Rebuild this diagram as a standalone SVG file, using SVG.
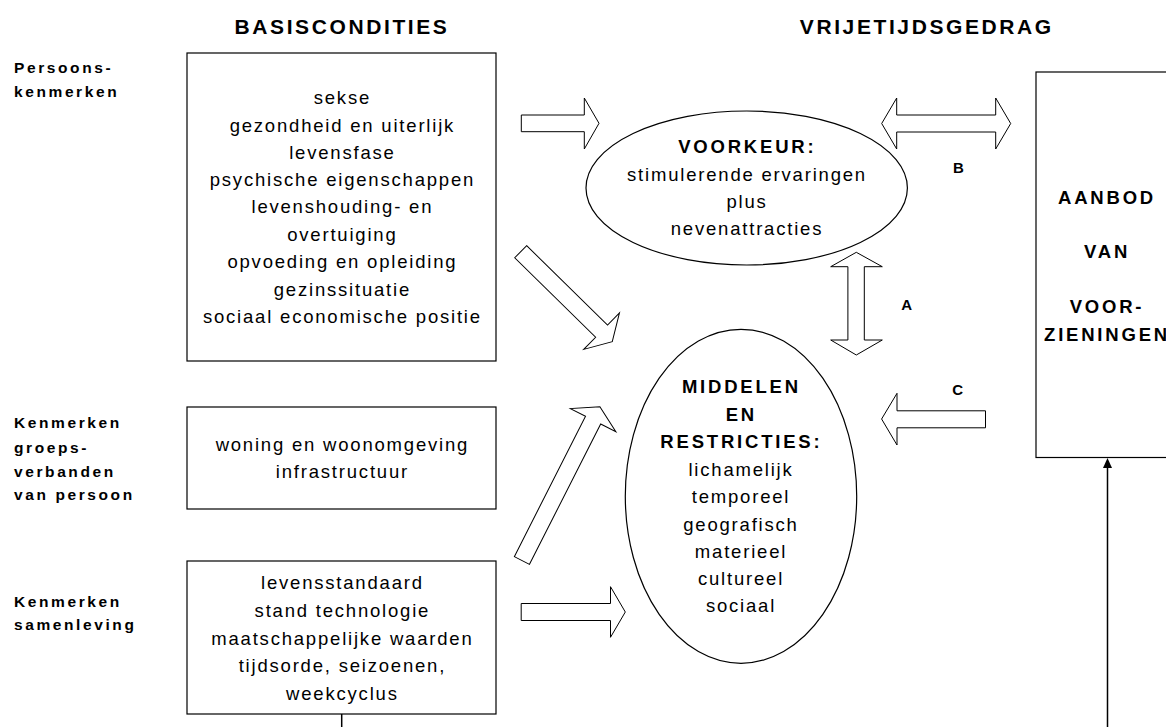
<svg xmlns="http://www.w3.org/2000/svg" width="1166" height="727" viewBox="0 0 1166 727">
<style>
text{font-family:"Liberation Sans",Arial,sans-serif;fill:#000}
.t{font-size:21px;font-weight:bold;letter-spacing:2.6px;text-anchor:middle}
.lb{font-size:15.5px;font-weight:bold;letter-spacing:2.6px}
.b{font-size:18.5px;letter-spacing:1.8px;text-anchor:middle}
.bb{font-size:18.5px;font-weight:bold;letter-spacing:2.8px;text-anchor:middle}
.sl{font-size:15px;font-weight:bold;text-anchor:middle}
.box{fill:#fff;stroke:#000;stroke-width:1.2}
.blk{fill:#fff;stroke:#000;stroke-width:1}
.ln{stroke:#000;stroke-width:1.5;fill:none}
</style>
<rect width="1166" height="727" fill="#fff"/>
<g id="titles">
<text class="t" x="342" y="34.3">BASISCONDITIES</text>
<text class="t" x="926.8" y="34.3">VRIJETIJDSGEDRAG</text>
</g>
<g id="labels">
<text class="lb" x="14" y="73">Persoons-</text>
<text class="lb" x="14" y="97">kenmerken</text>
<text class="lb" x="14" y="428.3">Kenmerken</text>
<text class="lb" x="14" y="452.7">groeps-</text>
<text class="lb" x="14" y="476.7">verbanden</text>
<text class="lb" x="14" y="500">van persoon</text>
<text class="lb" x="14" y="606.7">Kenmerken</text>
<text class="lb" x="14" y="630">samenleving</text>
</g>
<g id="box-persoon">
<rect class="box" x="187" y="53" width="309" height="308"/>
<text class="b" x="342.4" y="104">sekse</text>
<text class="b" x="342.4" y="131.5">gezondheid en uiterlijk</text>
<text class="b" x="342.4" y="158.7">levensfase</text>
<text class="b" x="342.4" y="186">psychische eigenschappen</text>
<text class="b" x="342.4" y="213.3">levenshouding- en</text>
<text class="b" x="342.4" y="240.7">overtuiging</text>
<text class="b" x="342.4" y="268.2">opvoeding en opleiding</text>
<text class="b" x="342.4" y="295.6">gezinssituatie</text>
<text class="b" x="342.4" y="323">sociaal economische positie</text>
</g>
<g id="box-groep">
<rect class="box" x="187" y="407" width="309" height="102"/>
<text class="b" x="342.4" y="451">woning en woonomgeving</text>
<text class="b" x="342.4" y="478.3">infrastructuur</text>
</g>
<g id="box-samenleving">
<rect class="box" x="187" y="561" width="309" height="153"/>
<text class="b" x="342.4" y="589.3">levensstandaard</text>
<text class="b" x="342.4" y="617">stand technologie</text>
<text class="b" x="342.4" y="644.8">maatschappelijke waarden</text>
<text class="b" x="342.4" y="672.3">tijdsorde, seizoenen,</text>
<text class="b" x="342.4" y="699.5">weekcyclus</text>
</g>
<g id="voorkeur">
<ellipse class="box" cx="746.7" cy="188" rx="160.7" ry="77"/>
<text class="bb" x="747.3" y="153.3">VOORKEUR:</text>
<text class="b" x="747" y="180.7">stimulerende ervaringen</text>
<text class="b" x="747" y="207.7">plus</text>
<text class="b" x="747" y="235">nevenattracties</text>
</g>
<g id="middelen">
<ellipse class="box" cx="741" cy="496.3" rx="115.7" ry="167"/>
<text class="bb" x="741.4" y="393.3">MIDDELEN</text>
<text class="bb" x="741.4" y="420.7">EN</text>
<text class="bb" x="741.4" y="447.7">RESTRICTIES:</text>
<text class="b" x="741" y="476">lichamelijk</text>
<text class="b" x="741" y="503.3">temporeel</text>
<text class="b" x="741" y="530.7">geografisch</text>
<text class="b" x="741" y="557.7">materieel</text>
<text class="b" x="741" y="585">cultureel</text>
<text class="b" x="741" y="612.3">sociaal</text>
</g>
<g id="aanbod">
<rect class="box" x="1036" y="72" width="140" height="385.5"/>
<text class="bb" x="1107" y="204">AANBOD</text>
<text class="bb" x="1107" y="258.3">VAN</text>
<text class="bb" x="1107" y="313.3">VOOR-</text>
<text class="bb" x="1107" y="340.7">ZIENINGEN</text>
</g>
<g id="connectors">
<polygon class="blk" points="521.3,115 584.3,115 584.3,98 599,123.3 584.3,149 584.3,131.7 521.3,131.7"/>
<polygon class="blk" points="881.7,123.5 896.7,98 896.7,115 995.7,115 995.7,98 1010.7,123.5 995.7,149 995.7,132 896.7,132 896.7,149"/>
<polygon class="blk" points="856.3,252.3 882.3,266.7 864.3,266.7 864.3,340 882.3,340 856.3,355 830.7,340 847.9,340 847.9,266.7 830.7,266.7"/>
<polygon class="blk" transform="translate(520.7,251.7) rotate(44.5)" points="0,-8.5 113.4,-8.5 113.4,-25.5 128.4,0 113.4,25.5 113.4,8.5 0,8.5"/>
<polygon class="blk" transform="translate(521.9,560.5) rotate(-63.1)" points="0,-8.5 157.4,-8.5 157.4,-25.5 172.4,0 157.4,25.5 157.4,8.5 0,8.5"/>
<polygon class="blk" points="521.2,603.5 610.5,603.5 610.5,586.7 625.3,612 610.5,637.3 610.5,620.5 521.2,620.5"/>
<polygon class="blk" points="881.6,419 897,393.3 897,410.8 985.5,410.8 985.5,427.8 897,427.8 897,445"/>
<line class="ln" x1="1107.5" y1="727" x2="1107.5" y2="467"/>
<polygon points="1107.5,458 1103,468 1112,468" fill="#000"/>
<line class="ln" x1="341.7" y1="714" x2="341.7" y2="727"/>
<text class="sl" x="958.3" y="172.7">B</text>
<text class="sl" x="906.7" y="310">A</text>
<text class="sl" x="957.7" y="395">C</text>
</g>
</svg>
